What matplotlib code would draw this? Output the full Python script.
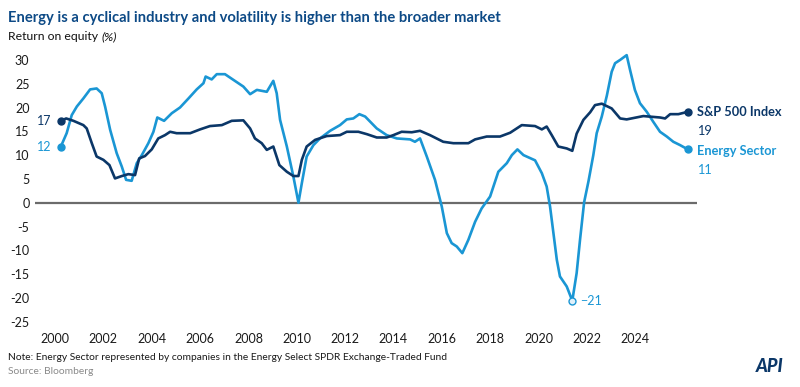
import matplotlib.pyplot as plt

plt.rcParams['font.family'] = ['Lato', 'DejaVu Sans']

# (fractional year, return on equity %)
sp_years = [2000.24, 2000.46, 2000.76, 2001.17, 2001.31, 2001.52, 2001.72, 2002.00, 2002.25, 2002.48,
            2002.76, 2003.03, 2003.31, 2003.48, 2003.72, 2004.00, 2004.27, 2004.55, 2004.76, 2005.03,
            2005.59, 2006.00, 2006.41, 2006.90, 2007.31, 2007.79, 2008.07, 2008.27, 2008.55, 2008.76,
            2009.03, 2009.28, 2009.59, 2009.86, 2010.07, 2010.21, 2010.41, 2010.76, 2011.24, 2011.79,
            2012.07, 2012.55, 2012.90, 2013.31, 2013.72, 2014.00, 2014.34, 2014.76, 2015.10, 2015.51,
            2016.06, 2016.48, 2017.10, 2017.38, 2017.86, 2018.41, 2018.83, 2019.31, 2019.86, 2020.14,
            2020.34, 2020.55, 2020.82, 2021.17, 2021.40, 2021.58, 2021.86, 2022.14, 2022.34, 2022.62,
            2023.03, 2023.38, 2023.65, 2024.34, 2025.03, 2025.24, 2025.45, 2025.79, 2026.18]
sp_roe = [17.2, 17.7, 17.2, 16.3, 15.6, 12.5, 9.7, 9.0, 7.9, 5.1,
          5.6, 6.0, 5.8, 9.3, 9.8, 11.2, 13.5, 14.2, 14.9, 14.6,
          14.6, 15.4, 16.1, 16.3, 17.2, 17.3, 15.6, 13.5, 12.5, 11.1,
          11.8, 7.9, 6.5, 5.6, 5.6, 9.0, 11.8, 13.2, 14.0, 14.2,
          14.9, 14.9, 14.4, 13.7, 13.7, 14.2, 14.9, 14.8, 15.1, 14.2,
          12.8, 12.5, 12.5, 13.3, 13.9, 13.9, 14.7, 16.3, 16.1, 15.4,
          16.0, 14.2, 11.8, 11.4, 10.9, 14.5, 17.4, 19.0, 20.5, 20.8,
          19.8, 17.7, 17.5, 18.2, 17.9, 17.7, 18.6, 18.6, 19.1]

energy_years = [2000.24, 2000.48, 2000.69, 2000.90, 2001.17, 2001.45, 2001.72, 2001.93, 2002.07, 2002.28,
                2002.55, 2002.76, 2002.94, 2003.17, 2003.38, 2003.59, 2003.86, 2004.07, 2004.23, 2004.51,
                2004.83, 2005.17, 2005.52, 2005.86, 2006.14, 2006.23, 2006.48, 2006.69, 2007.03, 2007.38,
                2007.79, 2008.07, 2008.35, 2008.76, 2009.03, 2009.17, 2009.31, 2009.59, 2009.86, 2010.07,
                2010.21, 2010.41, 2010.69, 2010.96, 2011.38, 2011.79, 2012.07, 2012.34, 2012.59, 2012.83,
                2013.31, 2013.72, 2014.14, 2014.69, 2014.89, 2015.10, 2015.38, 2015.72, 2016.00, 2016.21,
                2016.41, 2016.62, 2016.85, 2017.10, 2017.38, 2017.65, 2018.00, 2018.34, 2018.69, 2018.90,
                2019.13, 2019.38, 2019.86, 2020.14, 2020.34, 2020.48, 2020.62, 2020.76, 2020.89, 2021.17,
                2021.40, 2021.58, 2021.72, 2021.89, 2022.07, 2022.27, 2022.41, 2022.62, 2022.83, 2023.03,
                2023.17, 2023.38, 2023.65, 2023.79, 2023.99, 2024.20, 2024.48, 2024.75, 2025.03, 2025.31,
                2025.58, 2025.86, 2026.18]
energy_roe = [11.8, 14.6, 18.4, 20.2, 21.9, 23.8, 24.0, 23.0, 20.2, 15.3,
              10.4, 7.6, 4.8, 4.6, 8.3, 10.0, 12.5, 14.9, 17.9, 17.2,
              18.8, 20.0, 21.9, 23.8, 25.1, 26.5, 25.9, 27.0, 27.0, 25.8,
              24.4, 22.8, 23.7, 23.3, 25.6, 23.0, 17.4, 11.8, 5.5, 0.0,
              4.1, 9.7, 12.1, 13.5, 15.1, 16.3, 17.5, 17.7, 18.6, 18.1,
              15.6, 14.2, 13.5, 13.3, 12.8, 13.5, 9.7, 4.8, -0.8, -6.4,
              -8.5, -9.2, -10.6, -7.8, -4.0, -1.2, 1.3, 6.5, 8.3, 10.0,
              11.2, 10.0, 8.9, 6.2, 3.4, -0.8, -6.4, -12.0, -15.5, -17.6,
              -20.6, -14.8, -7.8, 0.1, 4.5, 10.0, 14.6, 18.1, 22.5, 27.5,
              29.3, 30.0, 31.0, 27.9, 23.7, 20.9, 19.1, 17.0, 14.9, 13.9,
              12.8, 12.1, 11.2]

year_ticks = list(range(2000, 2025, 2))
y_ticks = list(range(-25, 31, 5))

navy = '#0b3768'
light = '#1a96d4'
title_blue = '#0d4a86'

fig = plt.figure(figsize=(8, 3.87), dpi=100)
ax = fig.add_axes([35 / 800, 1 - 321.7 / 387, (697 - 35) / 800, (321.7 - 59.9) / 387])

ax.axhline(0, color='#6b6b6b', lw=1.6, zorder=1)
ax.plot(energy_years, energy_roe, color=light, lw=1.9, solid_joinstyle='round', zorder=2, clip_on=False)
ax.plot(sp_years, sp_roe, color=navy, lw=1.9, solid_joinstyle='round', zorder=3, clip_on=False)

# start / end markers
for xs, ys, c in [(sp_years, sp_roe, navy), (energy_years, energy_roe, light)]:
    ax.plot([xs[0], xs[-1]], [ys[0], ys[-1]], 'o', color=c, ms=5, zorder=4, clip_on=False)
    ax.annotate(f'{ys[0]:.0f}', (xs[0], ys[0]), xytext=(-7, 0), textcoords='offset points',
                ha='right', va='center', color=c, fontsize=9)

# minimum of energy
imin = energy_roe.index(min(energy_roe))
ax.plot(energy_years[imin], energy_roe[imin], 'o', mfc='#dff0fa', mec=light, mew=1, ms=5, zorder=4)
ax.annotate('\u2212' + f'{abs(energy_roe[imin]):.0f}', (energy_years[imin], energy_roe[imin]),
            xytext=(6, 0), textcoords='offset points', ha='left', va='center', color=light, fontsize=9)

# end labels
ax.annotate('S&P 500 Index', (sp_years[-1], sp_roe[-1]), xytext=(6.5, 0), textcoords='offset points',
            ha='left', va='center', color=navy, fontsize=9.2, fontweight='bold', annotation_clip=False)
ax.annotate(f'{sp_roe[-1]:.0f}', (sp_years[-1], sp_roe[-1]), xytext=(6.5, -13.5), textcoords='offset points',
            ha='left', va='center', color=navy, fontsize=9.2, annotation_clip=False)
ax.annotate('Energy Sector', (energy_years[-1], energy_roe[-1]), xytext=(6.5, -1.5), textcoords='offset points',
            ha='left', va='center', color=light, fontsize=9.2, fontweight='bold', annotation_clip=False)
ax.annotate(f'{energy_roe[-1]:.0f}', (energy_years[-1], energy_roe[-1]), xytext=(6.5, -15), textcoords='offset points',
            ha='left', va='center', color=light, fontsize=9.2, annotation_clip=False)

ax.set_xlim(1999.17, 2026.56)
ax.set_ylim(-25, 30)
ax.set_xticks(year_ticks)
ax.set_xticklabels([str(y) for y in year_ticks])
ax.set_yticks(y_ticks)
ax.set_yticklabels([str(v) if v >= 0 else '-' + str(-v) for v in y_ticks])
ax.tick_params(axis='both', length=0, labelsize=9, colors='#1a1a1a')
ax.tick_params(axis='y', pad=4)
ax.tick_params(axis='x', pad=8)
for s in ax.spines.values():
    s.set_visible(False)

fig.text(8 / 800, 1 - 18 / 387, 'Energy is a cyclical industry and volatility is higher than the broader market',
         color=title_blue, fontsize=10.6, fontweight='bold', va='center', ha='left')
t = fig.text(8 / 800, 1 - 37 / 387, 'Return on equity ', color='#111111', fontsize=8.8, va='center', ha='left')
fig.canvas.draw()
bb = t.get_window_extent()
fig.text(bb.x1 / 800, 1 - 37 / 387, '(%)', color='#111111', fontsize=8.8, style='italic', va='center', ha='left')

fig.text(8 / 800, 1 - 357 / 387,
         'Note: Energy Sector represented by companies in the Energy Select SPDR Exchange-Traded Fund',
         color='#1a1a1a', fontsize=7.4, va='center', ha='left')
fig.text(8 / 800, 1 - 372 / 387, 'Source: Bloomberg', color='#8a8a8a', fontsize=7.4, va='center', ha='left')

# API logo
fig.text(770 / 800, 1 - 366 / 387, 'API', color=navy, fontsize=13, fontweight='black',
         style='italic', va='center', ha='center')

fig.savefig('out.png', dpi=100)
